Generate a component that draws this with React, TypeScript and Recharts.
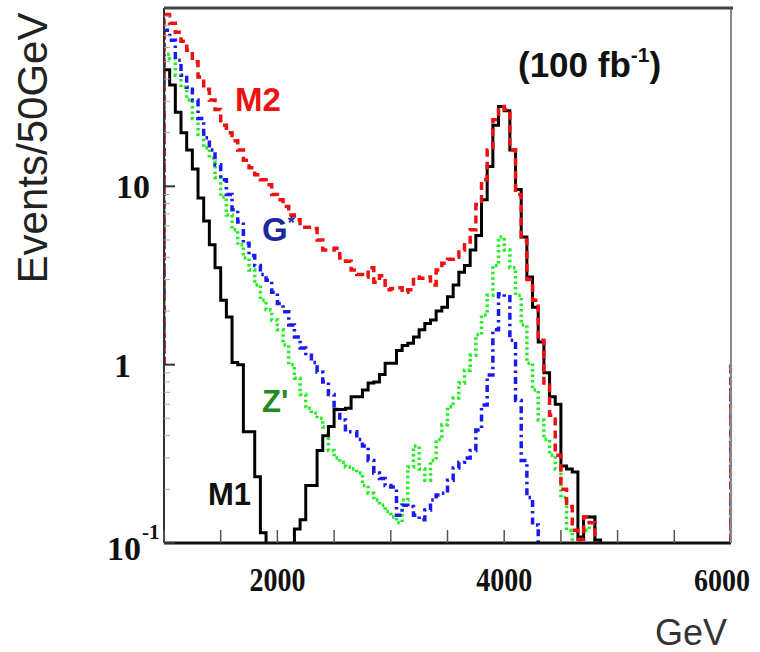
import React from 'react';
import { LineChart, Line, XAxis, YAxis } from 'recharts';

// 50 GeV bins from 1000 to 5950 GeV (100 bins). Empty bins sit below the plot floor.
const EMPTY = 0.05;
// height of the histogram's outer edges drawn at 1000 and 6000 GeV
const EDGE = 1;

const M1 = [
  45, 37, 26, 20, 16, 12.5, 8.6, 6.4, 4.7, 3.5,
  2.3, 1.85, 1.03, 1.0, 0.42, 0.42, 0.235, 0.114, EMPTY, EMPTY,
  EMPTY, EMPTY, EMPTY, 0.12, 0.135, 0.21, 0.21, 0.33, 0.4, 0.45,
  0.56, 0.56, 0.57, 0.66, 0.66, 0.72, 0.79, 0.8, 0.88, 1.02,
  1.02, 1.2, 1.28, 1.32, 1.43, 1.57, 1.7, 1.78, 2.0, 2.1,
  2.4, 2.8, 3.3, 3.6, 4.4, 5.3, 8.4, 12.9, 22, 28,
  26.5, 16, 9.6, 5.2, 3.1, 2.1, 1.34, 0.9, 0.66, 0.6,
  0.27, 0.26, 0.25, 0.108, 0.14, 0.14, 0.104, EMPTY, EMPTY, EMPTY,
  EMPTY, EMPTY, EMPTY, EMPTY, EMPTY, EMPTY, EMPTY, EMPTY, EMPTY, EMPTY,
  EMPTY, EMPTY, EMPTY, EMPTY, EMPTY, EMPTY, EMPTY, EMPTY, EMPTY, EMPTY,
];

const M2 = [
  92, 82, 73, 65, 58, 50, 41, 35, 30.5, 27,
  22, 20, 18, 16, 14, 12.7, 11.6, 10.9, 10.2, 9.0,
  8.4, 7.7, 6.9, 6.5, 5.9, 5.9, 5.8, 5.0, 4.4, 4.4,
  4.5, 3.96, 3.8, 3.4, 3.2, 3.1, 3.5, 2.9, 3.15, 2.63,
  2.67, 2.7, 2.55, 2.63, 3.1, 3.05, 3.1, 2.8, 3.4, 3.7,
  3.9, 4.0, 4.4, 4.7, 5.7, 7.9, 10.9, 16, 23.6, 28,
  27, 16, 9, 5.0, 3.0, 2.3, 1.37, 0.77, 0.52, 0.31,
  0.2, 0.16, 0.118, 0.105, 0.14, 0.13, EMPTY, EMPTY, EMPTY, EMPTY,
  EMPTY, EMPTY, EMPTY, EMPTY, EMPTY, EMPTY, EMPTY, EMPTY, EMPTY, EMPTY,
  EMPTY, EMPTY, EMPTY, EMPTY, EMPTY, EMPTY, EMPTY, EMPTY, EMPTY, EMPTY,
];

const GSTAR = [
  75, 66, 51, 42, 36, 30.5, 24, 18.7, 16, 13.2,
  10.9, 9.0, 7.4, 6.3, 4.8, 4.1, 3.6, 3.2, 2.97, 2.55,
  2.2, 1.98, 1.67, 1.43, 1.24, 1.13, 1.03, 0.91, 0.8, 0.68,
  0.56, 0.49, 0.42, 0.42, 0.38, 0.35, 0.29, 0.247, 0.23, 0.21,
  0.206, 0.143, 0.163, 0.16, 0.143, 0.135, 0.153, 0.174, 0.186, 0.19,
  0.225, 0.263, 0.284, 0.3, 0.33, 0.43, 0.595, 0.875, 1.57, 2.5,
  2.4, 1.37, 0.63, 0.29, 0.18, 0.126, EMPTY, EMPTY, EMPTY, EMPTY,
  EMPTY, EMPTY, EMPTY, EMPTY, EMPTY, EMPTY, EMPTY, EMPTY, EMPTY, EMPTY,
  EMPTY, EMPTY, EMPTY, EMPTY, EMPTY, EMPTY, EMPTY, EMPTY, EMPTY, EMPTY,
  EMPTY, EMPTY, EMPTY, EMPTY, EMPTY, EMPTY, EMPTY, EMPTY, EMPTY, EMPTY,
];

const ZPRIME = [
  55, 52, 42, 36, 30.5, 24, 19.5, 16.4, 14.4, 11.2,
  8.7, 6.9, 5.7, 4.7, 3.96, 3.4, 2.8, 2.3, 2.03, 1.78,
  1.57, 1.29, 1.0, 0.84, 0.68, 0.57, 0.535, 0.5, 0.447, 0.33,
  0.3, 0.284, 0.267, 0.26, 0.247, 0.21, 0.19, 0.174, 0.163, 0.15,
  0.14, 0.13, 0.174, 0.267, 0.35, 0.26, 0.225, 0.29, 0.38, 0.46,
  0.58, 0.65, 0.79, 0.93, 1.13, 1.47, 1.9, 2.45, 3.6, 5.2,
  4.4, 3.5, 2.45, 1.67, 1.02, 0.72, 0.49, 0.38, 0.31, 0.26,
  0.18, 0.118, EMPTY, 0.104, 0.118, 0.14, EMPTY, EMPTY, EMPTY, EMPTY,
  EMPTY, EMPTY, EMPTY, EMPTY, EMPTY, EMPTY, EMPTY, EMPTY, EMPTY, EMPTY,
  EMPTY, EMPTY, EMPTY, EMPTY, EMPTY, EMPTY, EMPTY, EMPTY, EMPTY, EMPTY,
];

const X_TICKS = [1000, 1500, 2000, 2500, 3000, 3500, 4000, 4500, 5000, 5500, 6000];
const X_LABELS = [2000, 4000, 6000];
const Y_TICKS = [
  0.1, 0.2, 0.3, 0.4, 0.5, 0.6, 0.7, 0.8, 0.9,
  1, 2, 3, 4, 5, 6, 7, 8, 9,
  10, 20, 30, 40, 50, 60, 70, 80, 90, 100,
];
const Y_MAJOR = [0.1, 1, 10, 100];

const rows = [
  { x: 1000, m1: M1[0], m2: EDGE, g: EDGE, z: EDGE },
  ...M1.map((v, i) => ({ x: 1000 + 50 * i, m1: v, m2: M2[i], g: GSTAR[i], z: ZPRIME[i] })),
  { x: 6000, m1: EMPTY, m2: EDGE, g: EDGE, z: EDGE },
];

const serif = '"Liberation Serif", "Times New Roman", serif';
const sans = '"Liberation Sans", Arial, sans-serif';

function XTick(props: any) {
  const { x, y, payload } = props;
  const v = payload.value;
  const last = v === 6000;
  return (
    <g>
      <line x1={x} x2={x} y1={y} y2={y - 13} stroke="#555" strokeWidth={1.5} />
      {X_LABELS.includes(v) && (
        <text x={last ? x - 9 : x} y={y + 48} textAnchor="middle" fontFamily={serif} fontWeight="bold" fontSize={last ? 31 : 33}
          textLength={56} lengthAdjust="spacingAndGlyphs" fill="#111">
          {v}
        </text>
      )}
    </g>
  );
}

function YTick(props: any) {
  const { x, y, payload } = props;
  const v = payload.value;
  const major = Y_MAJOR.includes(v);
  return (
    <g>
      <line x1={x} x2={x + (major ? 11 : 6)} y1={y} y2={y} stroke={major ? '#333' : '#aaa'} strokeWidth={major ? 2 : 1} />
      {v === 100 && (
        // top edge of the plot box
        <line x1={x} x2={x + 569} y1={y} y2={y} stroke="#444" strokeWidth={3} />
      )}
      {v === 10 && (
        <text x={x - 14} y={y + 12} textAnchor="end" fontFamily={serif} fontWeight="bold" fontSize={34} fill="#111">10</text>
      )}
      {v === 1 && (
        <text x={x - 33} y={y + 12} textAnchor="end" fontFamily={serif} fontWeight="bold" fontSize={34} fill="#111">1</text>
      )}
      {v === 0.1 && (
        <g>
          <text x={x - 57} y={y + 17} fontFamily={serif} fontWeight="bold" fontSize={34} fill="#111">
            10<tspan fontSize={21} dy={-21} dx={1}>-1</tspan>
          </text>
          {/* right edge of the plot box */}
          <line x1={x + 567} x2={x + 567} y1={y} y2={y - 535} stroke="#888" strokeWidth={2} />
        </g>
      )}
    </g>
  );
}

export default function App() {
  return (
    <div style={{ position: 'absolute', left: 0, top: 0, width: 760, height: 652, background: '#fff' }}>
      <LineChart width={760} height={652} data={rows} margin={{ top: 8, right: 29, bottom: 0, left: 0 }}>
        <XAxis
          dataKey="x"
          type="number"
          domain={[1000, 6000]}
          ticks={X_TICKS}
          interval={0}
          height={109}
          tickSize={0}
          tickMargin={0}
          tick={<XTick />}
          axisLine={{ stroke: '#111', strokeWidth: 3 }}
          allowDataOverflow
        />
        <YAxis
          scale="log"
          domain={[0.1, 100]}
          ticks={Y_TICKS}
          interval={0}
          width={164}
          tickSize={0}
          tickMargin={0}
          tick={<YTick />}
          axisLine={{ stroke: '#333', strokeWidth: 2 }}
          allowDataOverflow
        />
        <Line dataKey="z" type="stepAfter" stroke="#22ee22" strokeWidth={3.5} strokeDasharray="2.5 3" dot={false} activeDot={false} isAnimationActive={false} />
        <Line dataKey="g" type="stepAfter" stroke="#1a1aee" strokeWidth={3.5} strokeDasharray="7 4 2.5 4" dot={false} activeDot={false} isAnimationActive={false} />
        <Line dataKey="m1" type="stepAfter" stroke="#000" strokeWidth={3} dot={false} activeDot={false} isAnimationActive={false} />
        <Line dataKey="m2" type="stepAfter" stroke="#ee1111" strokeWidth={3.5} strokeDasharray="8 5" dot={false} activeDot={false} isAnimationActive={false} />
      </LineChart>
      <svg width={760} height={652} style={{ position: 'absolute', left: 0, top: 0, pointerEvents: 'none' }}>
        <text x={36} y={148} transform="rotate(-90 36 148)" textAnchor="middle" dominantBaseline="middle" fontFamily={sans} fontSize={42} fill="#222">
          Events/50GeV
        </text>
        <text x={691} y={645} textAnchor="middle" fontFamily={sans} fontSize={36} fill="#333">GeV</text>
        <text x={518} y={77} fontFamily={sans} fontWeight="bold" fontSize={35} fill="#111">
          (100 fb<tspan fontSize={21} dy={-15}>-1</tspan><tspan dy={15}>)</tspan>
        </text>
        <text x={235} y={111} fontFamily={sans} fontWeight="bold" fontSize={33} fill="#ee1111">M2</text>
        <text x={262} y={241} fontFamily={sans} fontWeight="bold" fontSize={33} fill="#1a2a9a">
          G<tspan fontSize={18} dy={-12}>*</tspan>
        </text>
        <text x={262} y={412} fontFamily={sans} fontWeight="bold" fontSize={31} fill="#228b22">Z'</text>
        <text x={208} y={505} fontFamily={sans} fontWeight="bold" fontSize={31} fill="#111">M1</text>
      </svg>
    </div>
  );
}
